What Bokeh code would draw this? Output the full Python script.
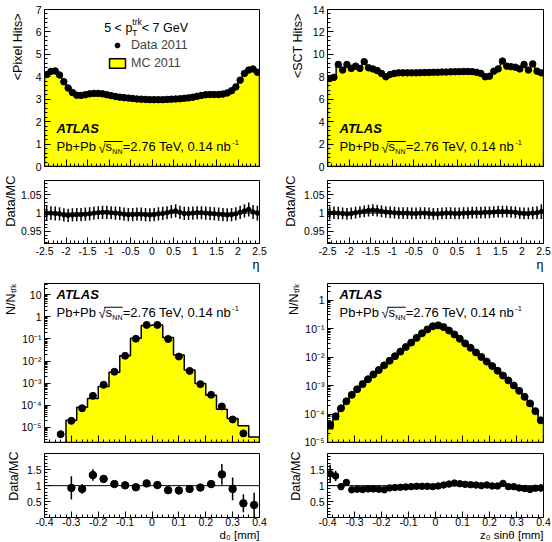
import numpy as np
from bokeh.plotting import figure
from bokeh.layouts import gridplot
from bokeh.models import (Label, Legend, LegendItem, Span, FixedTicker, Title,
                          BoxAnnotation, Range1d, LinearAxis)
from bokeh.embed import file_html
from bokeh.resources import INLINE

NaN = float("nan")
FONT = "Liberation Sans"
YELLOW = "#ffff00"

# ---------------------------------------------------------------- data
# <Pixel hits> and <SCT hits> per track, 50 bins in -2.5 < eta < 2.5
eta_edges = np.linspace(-2.5, 2.5, 51)
pixel_data = [4.10, 4.24, 4.26, 4.08, 3.78, 3.50, 3.30, 3.18, 3.17, 3.20,
              3.24, 3.26, 3.26, 3.24, 3.20, 3.16, 3.12, 3.09, 3.07, 3.05,
              3.03, 3.01, 3.00, 2.99, 2.98, 2.98, 2.98, 2.98, 2.99, 3.00,
              3.01, 3.02, 3.04, 3.06, 3.09, 3.13, 3.17, 3.20, 3.21, 3.21,
              3.21, 3.23, 3.28, 3.38, 3.55, 3.85, 4.15, 4.30, 4.35, 4.20]
pixel_ratio = [1.000, 1.000, 0.999, 0.998, 0.995, 0.994, 0.995, 0.996, 0.996, 0.997,
               0.998, 1.000, 1.001, 1.002, 1.002, 1.001, 1.000, 0.999, 0.997, 0.996,
               0.996, 0.997, 0.997, 0.996, 0.995, 0.996, 0.998, 0.999, 1.001, 1.004,
               1.006, 1.002, 0.999, 0.999, 1.000, 1.001, 1.001, 1.000, 0.999, 0.998,
               0.997, 0.996, 0.995, 0.996, 0.998, 1.002, 1.006, 1.010, 1.003, 1.000]
pixel_ratio_err = [0.020, 0.019, 0.019, 0.018, 0.018, 0.018, 0.018, 0.018, 0.018, 0.018,
                   0.018, 0.018, 0.018, 0.018, 0.018, 0.018, 0.018, 0.018, 0.018, 0.018,
                   0.018, 0.018, 0.018, 0.018, 0.018, 0.018, 0.018, 0.018, 0.018, 0.018,
                   0.018, 0.018, 0.018, 0.018, 0.018, 0.018, 0.018, 0.018, 0.018, 0.018,
                   0.018, 0.018, 0.018, 0.018, 0.018, 0.018, 0.018, 0.019, 0.019, 0.020]
sct_data = [7.85, 7.95, 9.10, 8.60, 9.10, 8.75, 8.95, 8.75, 9.35, 8.80,
            8.70, 8.55, 8.30, 8.00, 8.20, 8.30, 8.35, 8.35, 8.35, 8.35,
            8.35, 8.37, 8.38, 8.38, 8.40, 8.40, 8.42, 8.42, 8.44, 8.45,
            8.46, 8.47, 8.47, 8.46, 8.40, 8.30, 8.00, 8.05, 8.50, 8.70,
            9.40, 8.95, 8.90, 8.85, 8.70, 9.10, 8.60, 9.15, 8.50, 8.35]
sct_ratio = [1.000, 1.001, 1.000, 0.999, 0.998, 0.999, 1.001, 1.003, 1.005, 1.007,
             1.008, 1.007, 1.005, 1.003, 1.002, 1.001, 1.000, 1.000, 1.000, 0.999,
             0.999, 1.000, 1.000, 0.999, 0.998, 0.998, 0.999, 1.000, 1.000, 0.999,
             0.999, 1.000, 1.000, 1.001, 1.001, 1.001, 1.002, 1.002, 1.003, 1.004,
             1.004, 1.004, 1.003, 1.002, 1.000, 0.999, 0.999, 1.000, 1.001, 1.004]
sct_ratio_err = [0.018, 0.017, 0.017, 0.016, 0.016, 0.016, 0.016, 0.016, 0.016, 0.016,
                 0.016, 0.016, 0.016, 0.016, 0.016, 0.016, 0.016, 0.016, 0.016, 0.016,
                 0.016, 0.016, 0.016, 0.016, 0.016, 0.016, 0.016, 0.016, 0.016, 0.016,
                 0.016, 0.016, 0.016, 0.016, 0.016, 0.016, 0.016, 0.016, 0.016, 0.016,
                 0.016, 0.016, 0.016, 0.016, 0.016, 0.016, 0.016, 0.017, 0.018, 0.020]

# transverse impact parameter d0, 20 bins in -0.4 < d0 < 0.4 mm
d0_edges = np.linspace(-0.4, 0.4, 21)
d0_data = [NaN, 5.0e-6, 2.0e-5, 7.4e-5, 2.7e-4, 8.5e-4, 3.3e-3, 1.74e-2, 0.102, 0.43,
           0.43, 0.100, 1.6e-2, 3.6e-3, 9.1e-4, 3.0e-4, 8.9e-5, 2.3e-5, 5.4e-6, 1.5e-6]
d0_ratio = [NaN, NaN, 0.93, 0.90, 1.33, 1.21, 1.05, 1.01, 0.95, 1.07,
            1.02, 0.86, 0.85, 0.90, 0.94, 1.05, 1.35, 0.90, 0.45, 0.40]
d0_ratio_err = [NaN, NaN, 0.36, 0.15, 0.18, 0.06, 0.04, 0.03, 0.03, 0.03,
                0.03, 0.03, 0.03, 0.03, 0.04, 0.07, 0.32, 0.35, 0.28, 0.38]

# longitudinal impact parameter z0 sin(theta), 40 bins in -0.4 .. 0.4 mm
z0_edges = np.linspace(-0.4, 0.4, 41)
z0_data = [4.2e-5, 8.3e-5, 1.58e-4, 2.8e-4, 4.7e-4, 7.4e-4, 1.12e-3, 1.66e-3, 2.45e-3, 3.5e-3,
           5.1e-3, 7.4e-3, 1.07e-2, 1.55e-2, 2.24e-2, 3.2e-2, 4.7e-2, 6.8e-2, 9.3e-2, 0.120,
           0.129, 0.112, 8.5e-2, 6.2e-2, 4.4e-2, 3.0e-2, 2.1e-2, 1.45e-2, 1.00e-2, 6.9e-3,
           4.8e-3, 3.3e-3, 2.24e-3, 1.51e-3, 1.0e-3, 6.5e-4, 4.0e-4, 2.35e-4, 1.26e-4, 6.0e-5]
z0_ratio = [1.37, 1.30, 0.97, 1.10, 0.87, 0.89, 0.88, 0.90, 0.90, 0.89,
            0.87, 0.93, 0.94, 0.95, 0.96, 0.97, 0.98, 0.98, 0.98, 0.97,
            0.99, 1.02, 1.05, 1.08, 1.06, 1.04, 1.03, 1.02, 1.00, 1.02,
            0.99, 0.99, 1.07, 0.97, 0.97, 0.93, 0.91, 0.88, 0.92, 0.93]
z0_ratio_err = [0.28, 0.16, 0.07, 0.06, 0.04, 0.03, 0.03, 0.03, 0.03, 0.03,
                0.03, 0.03, 0.03, 0.03, 0.03, 0.03, 0.03, 0.03, 0.03, 0.03,
                0.03, 0.03, 0.03, 0.03, 0.03, 0.03, 0.03, 0.03, 0.03, 0.03,
                0.03, 0.03, 0.03, 0.03, 0.03, 0.04, 0.04, 0.05, 0.07, 0.12]

# ---------------------------------------------------------------- axis ticks
eta_ticks = [-2.5, -2.0, -1.5, -1.0, -0.5, 0.0, 0.5, 1.0, 1.5, 2.0, 2.5]
eta_labels = ["-2.5", "-2", "-1.5", "-1", "-0.5", "0", "0.5", "1", "1.5", "2", "2.5"]
ip_ticks = [-0.4, -0.3, -0.2, -0.1, 0.0, 0.1, 0.2, 0.3, 0.4]
ip_labels = ["-0.4", "-0.3", "-0.2", "-0.1", "0", "0.1", "0.2", "0.3", "0.4"]
pix_ticks = [0, 1, 2, 3, 4, 5, 6, 7]
pix_labels = ["0", "1", "2", "3", "4", "5", "6", "7"]
sct_ticks = [0, 2, 4, 6, 8, 10, 12, 14]
sct_labels = ["0", "2", "4", "6", "8", "10", "12", "14"]
fine_ticks = [0.95, 1.0, 1.05]
fine_labels = ["0.95", "1", "1.05"]
wide_ticks = [0.5, 1.0, 1.5]
wide_labels = ["0.5", "1", "1.5"]
log_ticks = [1e-5, 1e-4, 1e-3, 1e-2, 1e-1, 1.0, 10.0]
log_labels = ["10\u207b\u2075", "10\u207b\u2074", "10\u207b\u00b3", "10\u207b\u00b2",
              "10\u207b\u00b9", "1", "10"]

# Arial / Liberation Sans advance widths (1/1000 em) for laying out composed labels
_W = {' ': 278, '+': 584, ',': 278, '-': 333, '.': 278, '/': 278, '<': 584, '=': 584,
      '>': 584, '[': 278, ']': 278, 'A': 667, 'C': 722, 'D': 722, 'G': 778, 'H': 722,
      'L': 556, 'M': 833, 'N': 722, 'P': 667, 'S': 667, 'T': 611, 'V': 667, 'a': 556,
      'b': 556, 'd': 556, 'e': 556, 'i': 222, 'k': 500, 'l': 222, 'm': 833, 'n': 556,
      'p': 556, 'r': 333, 's': 500, 't': 278, 'x': 500, 'z': 500, '\u221a': 549}


def text_width(s, size):
    return sum(_W.get(c, 556) for c in s) * size / 1000.0


def styled_axis(ax, ticks, labels, minor, size="10.5px", tick_len=6, standoff=3):
    ax.ticker = FixedTicker(ticks=list(ticks), minor_ticks=list(minor))
    ax.major_label_overrides = dict(zip(ticks, labels))
    ax.major_tick_in = tick_len
    ax.major_tick_out = 0
    ax.minor_tick_in = tick_len // 2
    ax.minor_tick_out = 0
    ax.axis_line_color = "black"
    ax.major_tick_line_color = "black"
    ax.minor_tick_line_color = "black"
    ax.major_label_text_font = FONT
    ax.major_label_text_font_size = size
    ax.major_label_text_color = "black"
    ax.major_label_standoff = standoff


def ticks_only_xaxis(p, major, minor, major_len=7, minor_len=3):
    """Bottom axis of an upper panel: inward ticks, no numbers."""
    ax = p.xaxis[0]
    ax.ticker = FixedTicker(ticks=[], minor_ticks=list(minor))
    ax.major_tick_in = 0
    ax.major_tick_out = 0
    ax.minor_tick_in = minor_len
    ax.minor_tick_out = 0
    ax.major_label_standoff = 0
    ax.axis_line_color = "black"
    ax.minor_tick_line_color = "black"
    ax2 = LinearAxis(ticker=FixedTicker(ticks=[], minor_ticks=list(major)),
                     major_tick_in=0, major_tick_out=0, minor_tick_in=major_len,
                     minor_tick_out=0, major_label_standoff=0,
                     axis_line_color="black", minor_tick_line_color="black")
    p.add_layout(ax2, "below")


def side_title(p, text, side, size, standoff, offset):
    """Axis title pinned to the far end of its axis (top of y, right end of x)."""
    t = Title(text=text, align="right", offset=offset, standoff=max(standoff, 0),
              vertical_align="bottom" if side == "left" else "top",
              text_font=FONT, text_font_size=size, text_font_style="normal",
              text_color="black")
    p.add_layout(t, side)


def make_panel(height, left, right, top, bottom, xr, yr, log=False):
    p = figure(width=276, height=height, x_range=Range1d(*xr), y_range=Range1d(*yr),
               y_axis_type="log" if log else "linear", output_backend="svg",
               toolbar_location=None, min_border_left=left, min_border_right=right,
               min_border_top=top, min_border_bottom=bottom)
    p.xgrid.visible = False
    p.ygrid.visible = False
    p.outline_line_color = "black"
    p.outline_line_alpha = 1.0
    p.outline_line_width = 1
    p.background_fill_color = "white"
    p.border_fill_color = "white"
    return p


def put(p, org, x, baseline, text, size, style="normal"):
    """Place text with its baseline at page position (x, baseline); org = frame (left, bottom)."""
    fl, fb = org
    cy = baseline - 0.3465 * size
    p.add_layout(Label(x=x - fl, y=fb - cy, x_units="screen", y_units="screen", text=text,
                       text_font=FONT, text_font_size=f"{size}px", text_font_style=style,
                       text_baseline="middle", text_align="left", text_color="black"))


def atlas_block(p, org, x, y):
    put(p, org, x, y, "ATLAS", 13, "bold italic")
    yb = y + 18.2
    put(p, org, x, yb, "Pb+Pb", 13)
    xs = x + text_width("Pb+Pb", 13) + 2.5
    put(p, org, xs, yb + 1.5, "\u221a", 13)
    xs2 = xs + text_width("\u221a", 13)
    put(p, org, xs2, yb, "s", 13)
    xn = xs2 + text_width("s", 13) + 0.3
    put(p, org, xn, yb + 3.0, "NN", 7)
    xe = xn + text_width("NN", 7) + 0.3
    put(p, org, xe, yb, "=2.76 TeV, 0.14 nb", 13)
    xm = xe + text_width("=2.76 TeV, 0.14 nb", 13) - 1.5
    put(p, org, xm, yb - 6.0, "-1", 7.5)
    fl, fb = org
    ytop = yb - 10.3
    p.add_layout(BoxAnnotation(left=xs + 0.8 * text_width("\u221a", 13) - fl, right=xe - fl,
                               top=fb - ytop, bottom=fb - ytop - 1.0,
                               left_units="screen", right_units="screen",
                               top_units="screen", bottom_units="screen",
                               fill_color="black", fill_alpha=1.0, line_alpha=0.0))


def hist_outline(edges, vals, base):
    xs, ys = [edges[0]], [base]
    for i, v in enumerate(vals):
        v = base if not np.isfinite(v) else v
        xs += [edges[i], edges[i + 1]]
        ys += [v, v]
    xs.append(edges[-1])
    ys.append(base)
    return xs, ys


def centers(edges):
    e = np.asarray(edges)
    return 0.5 * (e[:-1] + e[1:])


def main_panel(p, edges, data, ratio, base, size):
    mc = np.asarray(data, dtype=float) / np.asarray(ratio, dtype=float)
    hx, hy = hist_outline(edges, mc, base)
    r_mc = p.patch(hx, hy, fill_color=YELLOW, line_color="black", line_width=1.5)
    x = centers(edges)
    d = np.asarray(data, dtype=float)
    ok = np.isfinite(d)
    r_data = p.scatter(x[ok], d[ok], size=size, marker="circle",
                       fill_color="black", line_color="black")
    return r_data, r_mc


def ratio_panel(p, edges, ratio, err, size, xerr=False, lw=1.5):
    x = centers(edges)
    r = np.asarray(ratio, dtype=float)
    e = np.asarray(err, dtype=float)
    ok = np.isfinite(r)
    p.add_layout(Span(location=1.0, dimension="width", line_color="black", line_width=1))
    if xerr:
        ed = np.asarray(edges)
        p.segment(ed[:-1][ok], r[ok], ed[1:][ok], r[ok], line_color="black", line_width=lw)
    p.segment(x[ok], (r - e)[ok], x[ok], (r + e)[ok], line_color="black", line_width=lw)
    p.scatter(x[ok], r[ok], size=size, marker="circle", fill_color="black", line_color="black")


minor_eta = np.round(np.arange(-2.5, 2.51, 0.1), 2)
minor_ip = np.round(np.arange(-0.4, 0.401, 0.02), 3)
log_minor = [m * 10.0 ** k for k in range(-6, 2) for m in range(2, 10)]

# frame origins on the page (left, bottom) used for annotation placement
ORG_TL, ORG_TR = (43, 166), (326, 166)
ORG_BL, ORG_BR = (43, 442), (326, 442)

# ---------------------------------------------------------------- row 1: hits vs eta
tl = make_panel(173, 43, 17, 9, 7, (-2.5, 2.5), (0, 7))
tr = make_panel(173, 50, 9, 9, 7, (-2.5, 2.5), (0, 14))
for p in (tl, tr):
    ticks_only_xaxis(p, eta_ticks, minor_eta)
styled_axis(tl.yaxis[0], pix_ticks, pix_labels, np.round(np.arange(0, 7.01, 0.2), 2))
styled_axis(tr.yaxis[0], sct_ticks, sct_labels, np.round(np.arange(0, 14.01, 0.4), 2))
side_title(tl, "<Pixel Hits>", "left", "12.5px", 15.4, 4)
side_title(tr, "<SCT Hits>", "left", "12.5px", 8.2, 4)
pix_r_data, pix_r_mc = main_panel(tl, eta_edges, pixel_data, pixel_ratio, 0.0, 6.5)
main_panel(tr, eta_edges, sct_data, sct_ratio, 0.0, 6.5)

# ---------------------------------------------------------------- row 2: ratios vs eta
tlr = make_panel(103, 43, 17, 7, 33, (-2.5, 2.5), (0.917, 1.089))
trr = make_panel(103, 50, 9, 7, 33, (-2.5, 2.5), (0.917, 1.089))
for p in (tlr, trr):
    styled_axis(p.xaxis[0], eta_ticks, eta_labels, minor_eta)
    styled_axis(p.yaxis[0], fine_ticks, fine_labels, np.round(np.arange(0.92, 1.081, 0.01), 3))
    side_title(p, "\u03b7", "below", "12.5px", 0, 0)
side_title(tlr, "Data/MC", "left", "13px", 0.8, -5)
side_title(trr, "Data/MC", "left", "13px", 7.8, -5)
ratio_panel(tlr, eta_edges, pixel_ratio, pixel_ratio_err, 4.5, xerr=True)
ratio_panel(trr, eta_edges, sct_ratio, sct_ratio_err, 4.5, xerr=True)

# ---------------------------------------------------------------- row 3: impact parameters
bl = make_panel(171, 43, 17, 7, 5, (-0.4, 0.4), (2.1e-6, 32), log=True)
br = make_panel(171, 50, 9, 7, 5, (-0.4, 0.4), (1e-5, 3.8), log=True)
for p in (bl, br):
    ticks_only_xaxis(p, ip_ticks, minor_ip)
    styled_axis(p.yaxis[0], log_ticks, log_labels, log_minor)
side_title(bl, "N/N\u209c\u1d63\u2096", "left", "12.5px", 1.4, 0)
side_title(br, "N/N\u209c\u1d63\u2096", "left", "12.5px", 0.4, 0)
main_panel(bl, d0_edges, d0_data, d0_ratio, 2.1e-6, 7)
main_panel(br, z0_edges, z0_data, z0_ratio, 1e-5, 7)

# ---------------------------------------------------------------- row 4: ratios vs impact parameters
blr = make_panel(95, 43, 17, 6, 25, (-0.4, 0.4), (0.01, 2.0))
brr = make_panel(95, 50, 9, 6, 25, (-0.4, 0.4), (0.01, 2.0))
for p in (blr, brr):
    styled_axis(p.xaxis[0], ip_ticks, ip_labels, minor_ip, standoff=0)
    styled_axis(p.yaxis[0], wide_ticks, wide_labels, np.round(np.arange(0.1, 1.91, 0.1), 2))
side_title(blr, "Data/MC", "left", "12.5px", 5.8, -2)
side_title(brr, "Data/MC", "left", "12.5px", 6.3, -2)
side_title(blr, "d\u2080 [mm]", "below", "11.5px", 0, 0)
side_title(brr, "z\u2080 sin\u03b8 [mm]", "below", "11.5px", 0, 0)
ratio_panel(blr, d0_edges, d0_ratio, d0_ratio_err, 7.5)
ratio_panel(brr, z0_edges, z0_ratio, z0_ratio_err, 6.5)

# ---------------------------------------------------------------- legend and captions
legend = Legend(items=[LegendItem(label="Data 2011", renderers=[pix_r_data]),
                       LegendItem(label="MC 2011", renderers=[pix_r_mc])],
                location=(63, 96), orientation="vertical", glyph_width=20, glyph_height=12,
                label_standoff=4, spacing=4, padding=0, margin=0, label_height=12,
                label_text_font=FONT, label_text_font_size="12.5px",
                border_line_alpha=0, background_fill_alpha=0)
tl.add_layout(legend)
put(tl, ORG_TL, 102.7, 32.3, "5 < p", 12.5)
xp = 102.7 + text_width("5 < p", 12.5)
put(tl, ORG_TL, xp, 35.7, "T", 8.5)
put(tl, ORG_TL, xp, 24.0, "trk", 8.5)
put(tl, ORG_TL, xp + text_width("trk", 8.5), 32.3, " < 7 GeV", 12.5)

atlas_block(tl, ORG_TL, 55, 132.5)
atlas_block(tr, ORG_TR, 338, 132.5)
atlas_block(bl, ORG_BL, 55, 298.3)
atlas_block(br, ORG_BR, 338, 298.3)

grid = gridplot([[tl, tr], [tlr, trr], [bl, br], [blr, brr]], toolbar_location=None)

with open("out.html", "w") as f:
    f.write(file_html(grid, INLINE))
